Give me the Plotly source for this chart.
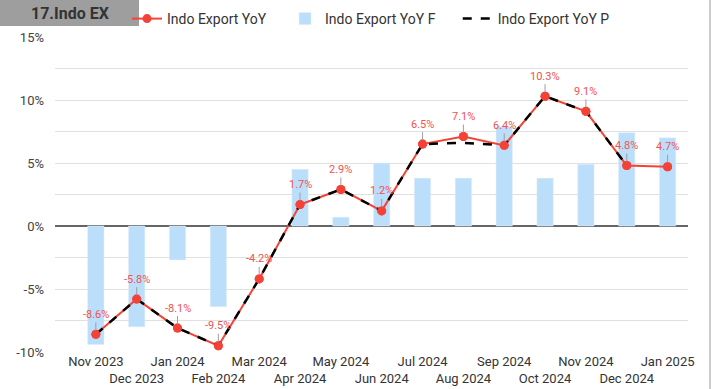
import plotly.graph_objects as go

months = ["Nov 2023", "Dec 2023", "Jan 2024", "Feb 2024", "Mar 2024", "Apr 2024",
          "May 2024", "Jun 2024", "Jul 2024", "Aug 2024", "Sep 2024", "Oct 2024",
          "Nov 2024", "Dec 2024", "Jan 2025"]
yoy = [-8.6, -5.8, -8.1, -9.5, -4.2, 1.7, 2.9, 1.2, 6.5, 7.1, 6.4, 10.3, 9.1, 4.8, 4.7]
yoy_f = [-9.4, -8.0, -2.7, -6.4, None, 4.5, 0.7, 5.0, 3.8, 3.8, 7.9, 3.8, 4.9, 7.4, 7.0]
yoy_p = [-8.6, -5.8, -8.1, -9.5, -4.2, 1.7, 2.9, 1.2, 6.5, 6.6, 6.4, 10.3, 9.1, 4.8, None]
y_ticks = [-10, -5, 0, 5, 10, 15]
y_tick_text = ["-10%", "-5%", "0%", "5%", "10%", "15%"]

RED = "#f44336"
BLUE = "#bbdefb"
FONT = "Roboto"
NB = "\u00a0"

W, H = 712, 389
ML, MR, MT, MB = 55, 24, 37, 37
pw, ph = W - ML - MR, H - MT - MB


def px(x):
    return (x - ML) / pw


def py(y):
    return (H - MB - y) / ph


fig = go.Figure()
fig.add_trace(go.Scatter(x=months, y=yoy, name="Indo Export YoY" + NB * 4, mode="lines+markers",
                         line=dict(color=RED, width=2), marker=dict(color=RED, size=9)))
fig.add_trace(go.Bar(x=months, y=yoy_f, name="Indo Export YoY F" + NB * 5, marker_color=BLUE,
                     width=0.4))
fig.add_trace(go.Scatter(x=months, y=yoy_p, name="Indo Export YoY P", mode="lines",
                         line=dict(color="black", width=2.5, dash="dash")))
fig.add_trace(go.Scatter(x=months, y=yoy, mode="markers", showlegend=False,
                         marker=dict(color=RED, size=9), hoverinfo="skip"))

annotations = []
for m, v in zip(months, yoy):
    annotations.append(dict(x=m, y=v, xref="x", yref="y", text=f"{v:.1f}%",
                            showarrow=True, arrowhead=0, arrowwidth=1, arrowcolor="#9e9e9e",
                            ax=0, ay=-20, standoff=4,
                            font=dict(family=FONT, size=11, color="#ef5350")))
annotations.append(dict(x=px(70), y=py(13), xref="paper", yref="paper",
                        xanchor="center", yanchor="middle", text="<b>17.Indo EX</b>",
                        showarrow=False, font=dict(family=FONT, size=16, color="#333")))

ticktext = [m if i % 2 == 0 else "<br>" + m for i, m in enumerate(months)]

fig.update_layout(
    width=W, height=H,
    margin=dict(l=ML, r=MR, t=MT, b=MB, autoexpand=False),
    plot_bgcolor="white", paper_bgcolor="white",
    font=dict(family=FONT, size=13, color="#333"),
    legend=dict(orientation="h", x=px(127), y=py(19), xanchor="left", yanchor="middle",
                font=dict(family=FONT, size=14, color="#333"), traceorder="normal",
                bgcolor="rgba(0,0,0,0)"),
    xaxis=dict(type="category", range=[-1, 14.5], tickmode="array", tickvals=months,
               ticktext=ticktext, tickangle=0, showgrid=False, showline=False, ticks="",
               automargin=False,
               tickfont=dict(family=FONT, size=13, color="#333")),
    yaxis=dict(range=[-10, 15], tickmode="array", tickvals=y_ticks, ticktext=y_tick_text,
               showgrid=True, gridcolor="#e0e0e0", gridwidth=1, zeroline=True,
               zerolinecolor="#666", zerolinewidth=1.5, ticks="", ticklabelstandoff=10,
               automargin=False,
               tickfont=dict(family=FONT, size=13, color="#444"),
               minor=dict(showgrid=True, gridcolor="#e0e0e0", dtick=2.5, tick0=0)),
    annotations=annotations,
    showlegend=True,
)

fig.add_shape(type="rect", xref="paper", yref="paper", x0=px(0), x1=px(139), y0=py(26), y1=py(0),
              fillcolor="#9e9e9e", line=dict(width=0), layer="below")
fig.add_shape(type="line", xref="paper", yref="paper", x0=px(710), x1=px(710), y0=py(H), y1=py(0),
              line=dict(color="#cccccc", width=2))

fig.write_html("out.html", config={"displayModeBar": False},
               post_script="document.body.style.margin='0';document.body.style.padding='0';")
